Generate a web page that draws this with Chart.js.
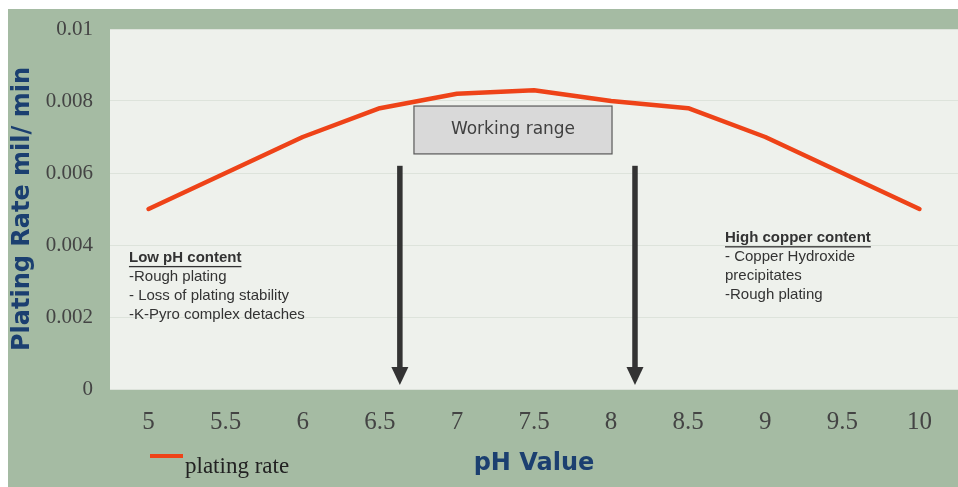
<!DOCTYPE html>
<html>
<head>
<meta charset="utf-8">
<script src="https://cdn.jsdelivr.net/npm/chart.js@4.4.1/dist/chart.umd.min.js"></script>
<style>
  html, body { margin: 0; padding: 0; background: #ffffff; }
  #wrap { position: absolute; left: 8px; top: 9px; width: 950px; height: 478px; }
</style>
</head>
<body>
<div id="wrap"><canvas id="c" width="950" height="478"></canvas></div>
<script>
// ---- data ----
const phLabels = ['5', '5.5', '6', '6.5', '7', '7.5', '8', '8.5', '9', '9.5', '10'];
const platingRate = [0.005, 0.006, 0.007, 0.0078, 0.0082, 0.0083, 0.008, 0.0078, 0.007, 0.006, 0.005];
const seriesName = 'plating rate';
const yTickValues = [0, 0.002, 0.004, 0.006, 0.008, 0.01];
const yTickLabels = ['0', '0.002', '0.004', '0.006', '0.008', '0.01'];

// annotations (in data units: x = category index, y = rate)
const arrowX = [3.26, 6.31];
const arrowTop = 0.0062;
const arrowTip = 0.00011;
const workingBox = { x0: 3.443, x1: 6.012, yTop: 0.00786, yBottom: 0.00653, text: 'Working range' };
const lowNote = { x: -0.254, y: 0.00364, title: 'Low pH content',
  lines: ['-Rough plating', '- Loss of plating stability', '-K-Pyro complex detaches'] };
const highNote = { x: 7.478, y: 0.00419, title: 'High copper content',
  lines: ['- Copper Hydroxide', 'precipitates', '-Rough plating'] };

const GREEN = '#a5bba3';
const PLOT_BG = '#eef1ec';
const LINE_RED = '#ee4318';
const TITLE_BLUE = '#1b3f70';

const bgPlugin = {
  id: 'bg',
  beforeDraw(chart) {
    const { ctx, chartArea: a } = chart;
    ctx.save();
    ctx.fillStyle = GREEN;
    ctx.fillRect(0, 0, chart.width, chart.height);
    ctx.fillStyle = PLOT_BG;
    ctx.fillRect(a.left, a.top, a.right - a.left, a.bottom - a.top);
    ctx.restore();
  }
};

function drawNote(ctx, xs, ys, note) {
  const x = xs.getPixelForValue(note.x);
  let y = ys.getPixelForValue(note.y);
  ctx.fillStyle = '#333333';
  ctx.textAlign = 'left';
  ctx.textBaseline = 'middle';
  ctx.font = 'bold 15px "Liberation Sans", Arial, sans-serif';
  ctx.fillText(note.title, x, y);
  const w = ctx.measureText(note.title).width;
  ctx.fillRect(x, y + 8, w, 1.3);
  ctx.font = '15px "Liberation Sans", Arial, sans-serif';
  note.lines.forEach((t, i) => ctx.fillText(t, x, y + 19 * (i + 1)));
}

const annoPlugin = {
  id: 'anno',
  afterDatasetsDraw(chart) {
    const { ctx } = chart;
    const xs = chart.scales.x, ys = chart.scales.y;
    ctx.save();
    // arrows
    ctx.fillStyle = '#333333';
    arrowX.forEach(v => {
      const x = xs.getPixelForValue(v);
      const yT = ys.getPixelForValue(arrowTop);
      const yB = ys.getPixelForValue(arrowTip);
      const headH = 18, headW = 17;
      ctx.fillRect(x - 2.75, yT, 5.5, yB - headH - yT + 1);
      ctx.beginPath();
      ctx.moveTo(x - headW / 2, yB - headH);
      ctx.lineTo(x + headW / 2, yB - headH);
      ctx.lineTo(x, yB);
      ctx.closePath();
      ctx.fill();
    });
    // working range box
    const bx0 = xs.getPixelForValue(workingBox.x0), bx1 = xs.getPixelForValue(workingBox.x1);
    const by0 = ys.getPixelForValue(workingBox.yTop), by1 = ys.getPixelForValue(workingBox.yBottom);
    ctx.fillStyle = '#d9d9d9';
    ctx.fillRect(bx0, by0, bx1 - bx0, by1 - by0);
    ctx.strokeStyle = '#595959';
    ctx.lineWidth = 1.2;
    ctx.strokeRect(bx0, by0, bx1 - bx0, by1 - by0);
    ctx.fillStyle = '#404040';
    ctx.font = '17px "DejaVu Sans", Verdana, sans-serif';
    ctx.textAlign = 'center';
    ctx.textBaseline = 'middle';
    ctx.fillText(workingBox.text, (bx0 + bx1) / 2, (by0 + by1) / 2);
    // notes
    drawNote(ctx, xs, ys, lowNote);
    drawNote(ctx, xs, ys, highNote);
    // legend
    const ds = chart.data.datasets[0];
    ctx.strokeStyle = ds.borderColor;
    ctx.lineWidth = 4;
    ctx.beginPath();
    ctx.moveTo(142, 447);
    ctx.lineTo(175, 447);
    ctx.stroke();
    ctx.fillStyle = '#222222';
    ctx.font = '23px "Liberation Serif", "Times New Roman", serif';
    ctx.textAlign = 'left';
    ctx.textBaseline = 'middle';
    ctx.fillText(ds.label, 177, 458);
    ctx.restore();
  }
};

new Chart(document.getElementById('c'), {
  type: 'line',
  data: {
    labels: phLabels,
    datasets: [{
      label: seriesName,
      data: platingRate,
      borderColor: LINE_RED,
      backgroundColor: LINE_RED,
      borderWidth: 4.5,
      pointRadius: 0,
      tension: 0,
      fill: false,
      borderCapStyle: 'round',
      borderJoinStyle: 'round'
    }]
  },
  options: {
    responsive: false,
    animation: false,
    events: [],
    layout: { padding: { top: 20, right: 0, bottom: 0, left: 0 } },
    plugins: { legend: { display: false }, tooltip: { enabled: false } },
    scales: {
      x: {
        type: 'category',
        offset: true,
        grid: { display: false, drawTicks: false },
        border: { display: false },
        ticks: {
          color: '#444444',
          padding: 18,
          font: { family: '"Liberation Serif", "Times New Roman", serif', size: 25 }
        },
        title: {
          display: true,
          text: 'pH Value',
          color: TITLE_BLUE,
          padding: { top: 0, bottom: 9 },
          font: { family: '"DejaVu Sans", Verdana, sans-serif', size: 24, weight: 'bold' }
        },
        afterFit(scale) { scale.height = 98; scale.paddingLeft = 0; scale.paddingRight = 0; }
      },
      y: {
        min: 0,
        max: 0.01,
        afterBuildTicks(scale) { scale.ticks = yTickValues.map(v => ({ value: v })); },
        grid: { color: '#dde3db', lineWidth: 1, drawTicks: false },
        border: { display: false },
        ticks: {
          color: '#444444',
          padding: 17,
          font: { family: '"Liberation Serif", "Times New Roman", serif', size: 21 },
          callback(value) {
            const i = yTickValues.findIndex(v => Math.abs(v - value) < 1e-9);
            return i >= 0 ? yTickLabels[i] : '';
          }
        },
        title: {
          display: true,
          text: 'Plating Rate mil/ min',
          color: TITLE_BLUE,
          padding: { top: 0, bottom: 0 },
          font: { family: '"DejaVu Sans", Verdana, sans-serif', size: 24, weight: 'bold' }
        },
        afterFit(scale) { scale.width = 102; scale.paddingTop = 0; scale.paddingBottom = 0; }
      }
    }
  },
  plugins: [bgPlugin, annoPlugin]
});
</script>
</body>
</html>
